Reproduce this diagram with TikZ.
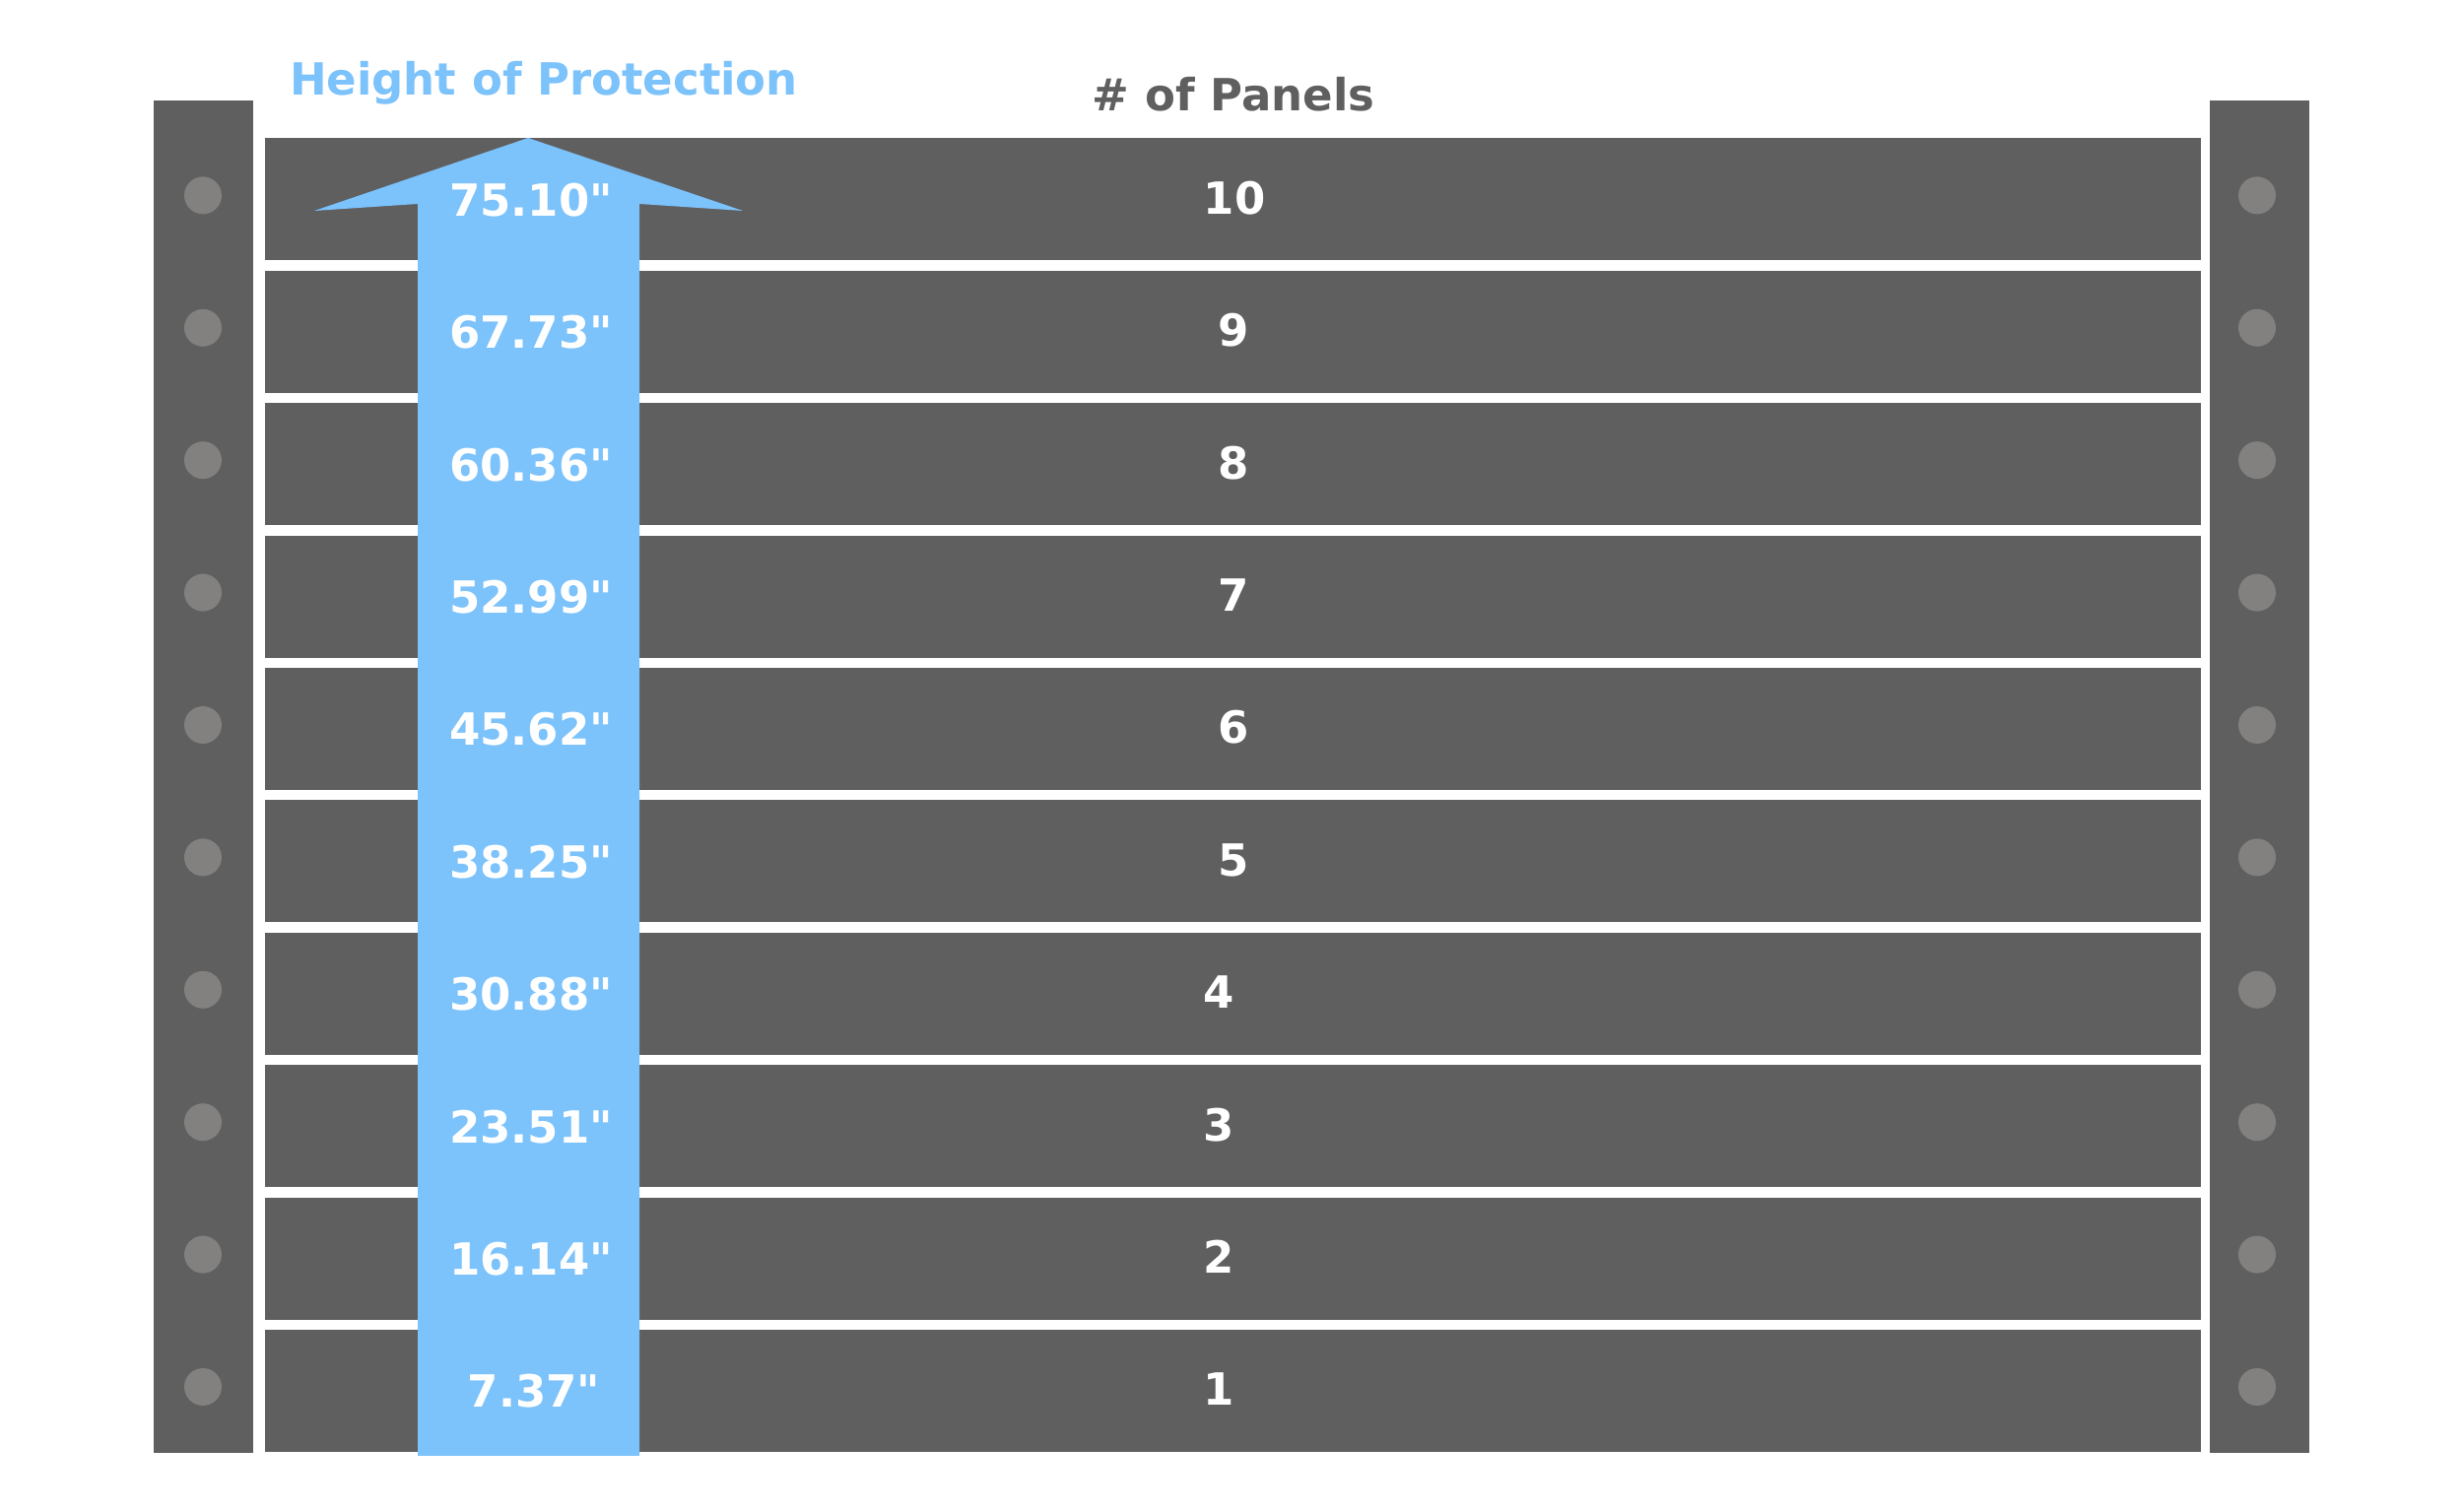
\documentclass[tikz,border=0pt]{standalone}
\usepackage{fontspec}
\setmainfont{DejaVu Sans}[Ligatures=TeXOff]
\definecolor{panelgray}{HTML}{5F5F5F}
\definecolor{holegray}{HTML}{828180}
\definecolor{arrowblue}{HTML}{7CC2FB}

\begin{document}
\begin{tikzpicture}[x=0.3pt,y=-0.3pt,
		lbl/.style={anchor=base,font=\fontsize{13.5}{16}\selectfont\bfseries,inner sep=0pt},
		val/.style={lbl,text=white},
		num/.style={lbl,text=white}]
			\useasboundingbox (0,0) rectangle (2500,1535);
			% posts
			\fill[panelgray] (156,102) rectangle (257,1475);
			\fill[panelgray] (2243,102) rectangle (2344,1475);
			% panels with holes in the posts
			\foreach \k in {1,...,10}{
				\pgfmathsetmacro\yc{1412-(\k-1)*134.4}
				\fill[panelgray] (269,\yc-62) rectangle (2234,\yc+62);
				\fill[holegray] (206,\yc-4) circle (19);
				\fill[holegray] (2291,\yc-4) circle (19);
			}
			% height arrow
			\fill[arrowblue] (536,140) -- (754,214) -- (649,207) -- (649,1478)
				-- (424,1478) -- (424,207) -- (319,214) -- cycle;
			\node[lbl,text=arrowblue] (title) at (552,97) {Height of Protection};
			\node[lbl,text=panelgray] (panels) at (1252,113) {\# of Panels};
			\foreach \k/\h/\vx/\nx in {1/7.37/542/1237, 2/16.14/539/1237, 3/23.51/539/1237,
				4/30.88/539/1237, 5/38.25/539/1252, 6/45.62/539/1252, 7/52.99/539/1252,
				8/60.36/539/1252, 9/67.73/539/1252, 10/75.10/539/1253}{
				\pgfmathsetmacro\yb{1412-(\k-1)*134.4+17}
				\node[val] (v\k) at (\vx,\yb) {\h"};
				\node[num] (n\k) at (\nx,\yb-2) {\k};
			}
		\end{tikzpicture}
\end{document}
